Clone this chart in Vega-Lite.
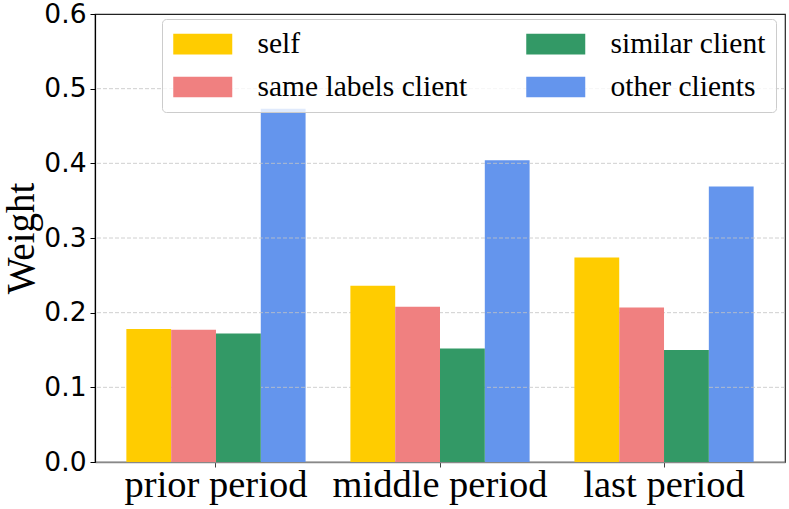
{
  "$schema": "https://vega.github.io/schema/vega-lite/v6.json",
  "width": 690,
  "height": 448,
  "autosize": {"type": "none"},
  "padding": {"left": 95, "top": 14, "right": 4, "bottom": 47},
  "background": "white",
  "config": {
    "view": {"stroke": "#222222", "strokeWidth": 1.2}
  },
  "datasets": {
    "bars": [
      {"period": "prior period", "source": "self", "weight": 0.178},
      {"period": "prior period", "source": "same labels client", "weight": 0.177},
      {"period": "prior period", "source": "similar client", "weight": 0.172},
      {"period": "prior period", "source": "other clients", "weight": 0.473},
      {"period": "middle period", "source": "self", "weight": 0.236},
      {"period": "middle period", "source": "same labels client", "weight": 0.208},
      {"period": "middle period", "source": "similar client", "weight": 0.152},
      {"period": "middle period", "source": "other clients", "weight": 0.404},
      {"period": "last period", "source": "self", "weight": 0.274},
      {"period": "last period", "source": "same labels client", "weight": 0.207},
      {"period": "last period", "source": "similar client", "weight": 0.150},
      {"period": "last period", "source": "other clients", "weight": 0.369}
    ],
    "grid": [
      {"weight": 0.1},
      {"weight": 0.2},
      {"weight": 0.3},
      {"weight": 0.4},
      {"weight": 0.5}
    ]
  },
  "layer": [
    {
      "data": {"name": "bars"},
      "transform": [{"filter": "datum.source === 'other clients'"}],
      "mark": {"type": "bar"},
      "encoding": {
        "x": {
          "field": "period", "type": "nominal",
          "scale": {"domain": ["prior period", "middle period", "last period"], "paddingInner": 0.2, "paddingOuter": 0.14},
          "axis": {
            "title": null, "labelAngle": 0, "labelFont": "Liberation Serif", "labelFontSize": 38.5,
            "labelColor": "black", "labelBaseline": "alphabetic", "labelPadding": 29, "labelLimit": 400,
            "tickSize": 5, "tickColor": "#444444", "tickWidth": 1, "domainColor": "#888888", "domainWidth": 1.6,
            "grid": false, "labelOverlap": false
          }
        },
        "xOffset": {
          "field": "source", "type": "nominal",
          "scale": {"domain": ["self", "same labels client", "similar client", "other clients"], "paddingInner": 0, "paddingOuter": 0}
        },
        "y": {
          "field": "weight", "type": "quantitative",
          "scale": {"domain": [0, 0.6], "nice": false, "zero": true},
          "axis": {
            "values": [0, 0.1, 0.2, 0.3, 0.4, 0.5, 0.6], "format": ".1f", "grid": false,
            "labelFont": "DejaVu Sans", "labelFontSize": 26.5, "labelColor": "black", "labelPadding": 4,
            "labelFlush": false, "labelOverlap": false,
            "tickSize": 5, "tickColor": "black", "tickWidth": 1, "domainColor": "black", "domainWidth": 1.2,
            "title": "Weight", "titleFont": "Liberation Serif", "titleFontSize": 39, "titleFontWeight": "normal",
            "titleColor": "black", "titleBaseline": "alphabetic", "titleAlign": "center", "titleAngle": 270,
            "titleX": -62, "titleY": 224
          }
        },
        "color": {
          "field": "source", "type": "nominal",
          "scale": {"domain": ["self", "same labels client", "similar client", "other clients"], "range": ["#FFCC00", "#F08080", "#339966", "#6495ED"]},
          "legend": {
            "title": null, "orient": "none", "legendX": 67, "legendY": 5, "columns": 2,
            "columnPadding": 57, "rowPadding": 12.2, "padding": 10,
            "symbolType": "M-2.95,-1.03H2.95V1.03H-2.95Z", "symbolSize": 400, "symbolStrokeWidth": 0,
            "symbolOffset": 16, "labelOffset": 40, "labelFont": "Liberation Serif", "labelFontSize": 29.5,
            "labelColor": "black", "labelLimit": 400,
            "fillColor": "rgba(255,255,255,0.8)", "strokeColor": "#cccccc", "cornerRadius": 4
          }
        }
      }
    },
    {
      "data": {"name": "grid"},
      "mark": {"type": "rule", "color": "#c4c4c4", "strokeWidth": 0.8, "strokeDash": [4, 2]},
      "encoding": {
        "y": {"field": "weight", "type": "quantitative"}
      }
    },
    {
      "data": {"name": "bars"},
      "transform": [{"filter": "datum.source !== 'other clients'"}],
      "mark": {"type": "bar"},
      "encoding": {
        "x": {"field": "period", "type": "nominal"},
        "xOffset": {"field": "source", "type": "nominal"},
        "y": {"field": "weight", "type": "quantitative"},
        "color": {"field": "source", "type": "nominal"}
      }
    }
  ]
}
